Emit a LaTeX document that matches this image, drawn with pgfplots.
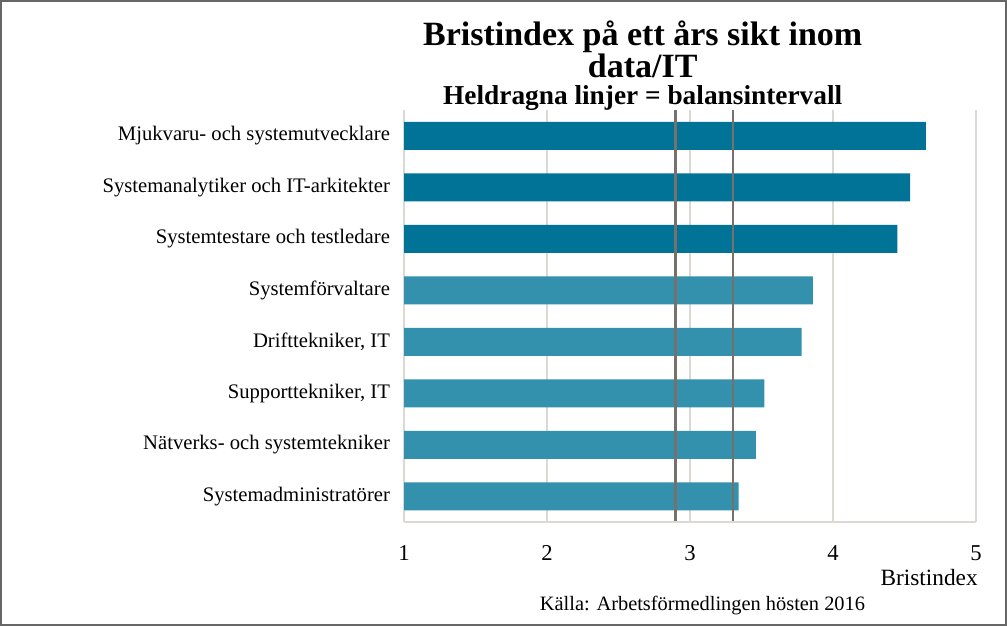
\documentclass[border=0pt]{standalone}
\usepackage{fontspec}
\setmainfont{Liberation Serif}
\usepackage{pgfplots}
\pgfplotsset{compat=1.18}
\definecolor{darkteal}{RGB}{0,115,150}
\definecolor{lightteal}{RGB}{52,145,173}
\definecolor{gridgray}{RGB}{220,216,211}
\definecolor{linegray}{RGB}{118,113,108}
\begin{document}
\begin{tikzpicture}
% frame
\draw[line width=1.5pt, gray!80!black] (0.75pt,0.75pt) rectangle (754.5pt,468.75pt);
\begin{axis}[
    at={(303pt,78pt)}, anchor=south west,
    scale only axis,
    width=429pt, height=309pt,
    xbar, bar shift=0pt, bar width=21pt,
    xmin=1, xmax=5,
    ymin=-0.5, ymax=7.5,
    xtick={1,2,3,4,5},
    ytick={0,...,7},
    yticklabels={Systemadministratörer, Nätverks- och systemtekniker, {Supporttekniker, IT}, {Drifttekniker, IT}, Systemförvaltare, Systemtestare och testledare, Systemanalytiker och IT-arkitekter, Mjukvaru- och systemutvecklare},
    major tick length=0pt,
    axis line style={draw=none},
    xmajorgrids, grid style={gridgray, line width=0.9pt},
    yticklabel style={font=\fontsize{15.5}{18}\selectfont, xshift=-7pt},
    xticklabel style={font=\fontsize{17}{20}\selectfont, anchor=base, yshift=-29pt},
    /pgf/number format/assume math mode=true,
    clip=false,
]
\addplot[fill=lightteal, draw=none] coordinates {(3.34,0) (3.46,1) (3.52,2) (3.78,3) (3.86,4)};
\addplot[fill=darkteal, draw=none] coordinates {(4.45,5) (4.54,6) (4.65,7)};
\addplot[sharp plot, draw=linegray, line width=2pt, no marks] coordinates {(2.9,-0.5) (2.9,7.5)};
\addplot[sharp plot, draw=linegray, line width=2pt, no marks] coordinates {(3.3,-0.5) (3.3,7.5)};
\draw[gridgray, line width=0.9pt] (rel axis cs:0,0) -- (rel axis cs:1,0);
\end{axis}
\node[font=\fontsize{25.5}{30}\selectfont\bfseries, anchor=base] at (482pt,435pt) {Bristindex på ett års sikt inom};
\node[font=\fontsize{25.5}{30}\selectfont\bfseries, anchor=base] at (482pt,411pt) {data/IT};
\node[font=\fontsize{20.5}{24}\selectfont\bfseries, anchor=base] at (482pt,391pt) {Heldragna linjer = balansintervall};
\node[font=\fontsize{17.5}{20}\selectfont, anchor=base east, inner sep=0pt] at (733.5pt,30.75pt) {Bristindex};
\node[font=\fontsize{15.3}{18}\selectfont, anchor=base east, inner sep=0pt] at (649pt,12pt) {Källa: Arbetsförmedlingen hösten 2016};
\end{tikzpicture}
\end{document}
